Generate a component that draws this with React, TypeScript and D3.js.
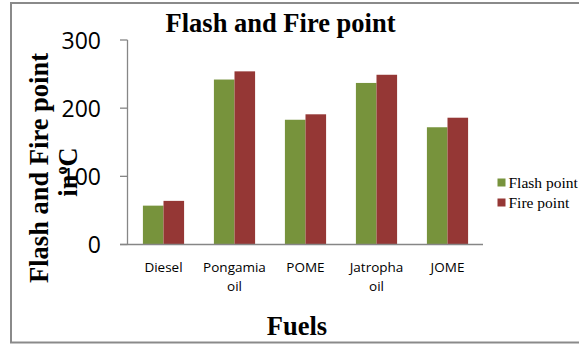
import React from "react";
import * as d3 from "d3";

const categories = ["Diesel", "Pongamia oil", "POME", "Jatropha oil", "JOME"];
const categoryLines = [["Diesel"], ["Pongamia", "oil"], ["POME"], ["Jatropha", "oil"], ["JOME"]];
const flashPoint = [57, 242, 183, 237, 172];
const firePoint = [64, 254, 191, 249, 186];
const seriesNames = ["Flash point", "Fire point"];
const seriesColors = ["#77933C", "#953735"];
const yTicks = [0, 100, 200, 300];

export default function App() {
  const W = 579, H = 345;
  const x = d3.scaleBand<string>().domain(categories).range([128, 483]).paddingInner(0.42).paddingOuter(0.21);
  const xs = d3.scaleBand<string>().domain(seriesNames).range([0, x.bandwidth()]);
  const y = d3.scaleLinear().domain([0, 300]).range([244.5, 40]);
  const series = [flashPoint, firePoint];
  const axisColor = "#868686";
  return (
    <svg width={W} height={H} style={{ position: "absolute", left: 0, top: 0 }}>
      <rect x={0} y={0} width={W} height={H} fill="#fff" />
      <rect x={11} y={3} width={W + 10} height={339.5} fill="none" stroke="#8a8a8a" strokeWidth={2} />
      <text x={280.5} y={31.5} textAnchor="middle" fontFamily="Liberation Serif" fontWeight="bold" fontSize={26.5}>Flash and Fire point</text>
      {series.map((vals, si) =>
        vals.map((v, i) => (
          <rect key={`${si}-${i}`} x={(x(categories[i]) as number) + (xs(seriesNames[si]) as number)} y={y(v)} width={xs.bandwidth()} height={y(0) - y(v)} fill={seriesColors[si]} />
        ))
      )}
      <line x1={127.5} x2={127.5} y1={y(300)} y2={y(0)} stroke={axisColor} strokeWidth={1.3} />
      <line x1={120} x2={483} y1={y(0)} y2={y(0)} stroke={axisColor} strokeWidth={1.3} />
      {yTicks.map((t) => (
        <g key={t}>
          <line x1={120} x2={127.5} y1={y(t)} y2={y(t)} stroke={axisColor} strokeWidth={1.3} />
          <text x={101} y={y(t) + 8.5} textAnchor="end" fontFamily="Open Sans" fontSize={23}>{t}</text>
        </g>
      ))}
      {categories.map((c, i) => (
        <text key={c} x={(x(c) as number) + x.bandwidth() / 2} y={272} textAnchor="middle" fontFamily="Open Sans" fontSize={13.5}>
          {categoryLines[i].map((l, j) => (
            <tspan key={j} x={(x(c) as number) + x.bandwidth() / 2} dy={j === 0 ? 0 : 18.5}>{l}</tspan>
          ))}
        </text>
      ))}
      <text x={297} y={335} textAnchor="middle" fontFamily="Liberation Serif" fontWeight="bold" fontSize={26.5}>Fuels</text>
      <g transform="translate(48,168) rotate(-90)">
        <text x={0} y={0} textAnchor="middle" fontFamily="Liberation Serif" fontWeight="bold" fontSize={26.5}>Flash and Fire point</text>
      </g>
      <g transform="translate(76.5,172) rotate(-90)">
        <text x={0} y={0} textAnchor="middle" fontFamily="Liberation Serif" fontWeight="bold" fontSize={26.5}>
          in<tspan dy={-10} fontSize={16}>o</tspan><tspan dy={10}>C</tspan>
        </text>
      </g>
      {seriesNames.map((s, i) => (
        <g key={s}>
          <rect x={497.5} y={178.5 + i * 20} width={8} height={8} fill={seriesColors[i]} />
          <text x={508.5} y={187.5 + i * 20} fontFamily="Liberation Serif" fontSize={15.5}>{s}</text>
        </g>
      ))}
    </svg>
  );
}
